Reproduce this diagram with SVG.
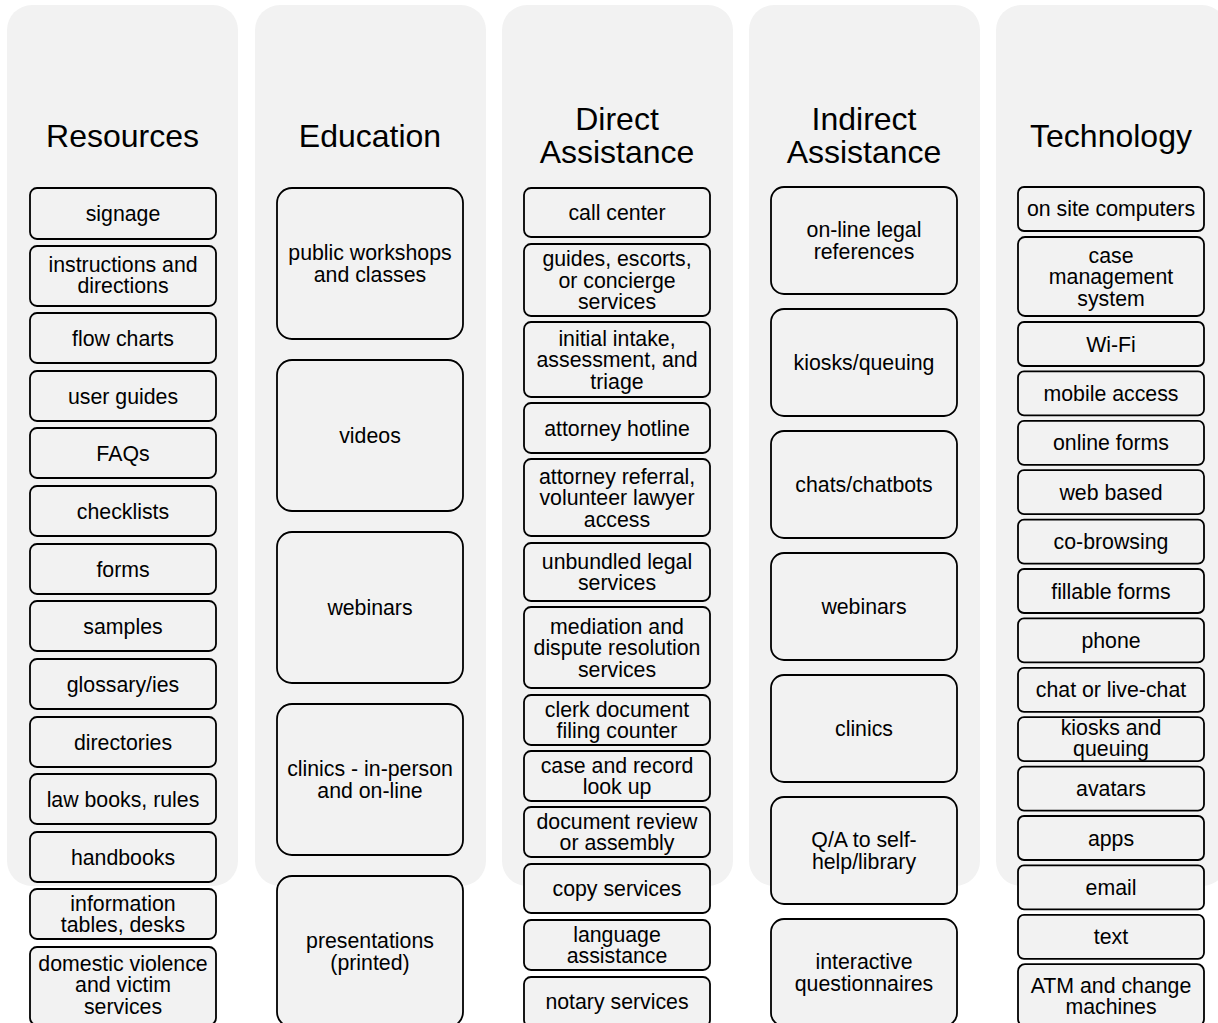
<svg xmlns="http://www.w3.org/2000/svg" width="1218" height="1023" viewBox="0 0 1218 1023">
<style>
.col{fill:#f2f2f2}
.box{fill:#f2f2f2;stroke:#000;stroke-width:1.8}
.t{font-family:"Liberation Sans",Arial,sans-serif;font-size:21.3px;text-anchor:middle;fill:#000}
.h{font-size:32px}
</style>
<rect width="1218" height="1023" fill="#fff"/>
<g id="columns">
<rect class="col" x="7" y="5" width="231" height="881" rx="25"/>
<rect class="col" x="255" y="5" width="231" height="881" rx="25"/>
<rect class="col" x="502" y="5" width="231" height="881" rx="25"/>
<rect class="col" x="749" y="5" width="231" height="881" rx="25"/>
<rect class="col" x="996" y="5" width="231" height="881" rx="25"/>
<text class="t h" x="122.5" y="147">Resources</text>
<text class="t h" x="370" y="147">Education</text>
<text class="t h" x="617" y="130">Direct<tspan x="617" y="163">Assistance</tspan></text>
<text class="t h" x="864" y="130">Indirect<tspan x="864" y="163">Assistance</tspan></text>
<text class="t h" x="1111" y="147">Technology</text>
</g>
<g id="connectors"/>
<!-- Resources -->
<g id="r1"><rect class="box" x="30" y="188" width="186" height="51" rx="7"/><text class="t" x="123" y="221">signage</text></g>
<g id="r2"><rect class="box" x="30" y="246" width="186" height="60" rx="7"/><text class="t" x="123" y="271.5">instructions and<tspan x="123" y="293">directions</tspan></text></g>
<g id="r3"><rect class="box" x="30" y="313" width="186" height="50" rx="7"/><text class="t" x="123" y="345.5">flow charts</text></g>
<g id="r4"><rect class="box" x="30" y="371" width="186" height="50" rx="7"/><text class="t" x="123" y="403.5">user guides</text></g>
<g id="r5"><rect class="box" x="30" y="428" width="186" height="50" rx="7"/><text class="t" x="123" y="460.5">FAQs</text></g>
<g id="r6"><rect class="box" x="30" y="486" width="186" height="50" rx="7"/><text class="t" x="123" y="518.5">checklists</text></g>
<g id="r7"><rect class="box" x="30" y="544" width="186" height="50" rx="7"/><text class="t" x="123" y="576.5">forms</text></g>
<g id="r8"><rect class="box" x="30" y="601" width="186" height="50" rx="7"/><text class="t" x="123" y="633.5">samples</text></g>
<g id="r9"><rect class="box" x="30" y="659" width="186" height="50" rx="7"/><text class="t" x="123" y="691.5">glossary/ies</text></g>
<g id="r10"><rect class="box" x="30" y="717" width="186" height="50" rx="7"/><text class="t" x="123" y="749.5">directories</text></g>
<g id="r11"><rect class="box" x="30" y="774" width="186" height="50" rx="7"/><text class="t" x="123" y="806.5">law books, rules</text></g>
<g id="r12"><rect class="box" x="30" y="832" width="186" height="50" rx="7"/><text class="t" x="123" y="864.5">handbooks</text></g>
<g id="r13"><rect class="box" x="30" y="889" width="186" height="50" rx="7"/><text class="t" x="123" y="910.5">information<tspan x="123" y="932">tables, desks</tspan></text></g>
<g id="r14"><rect class="box" x="30" y="947" width="186" height="78" rx="7"/><text class="t" x="123" y="970.5">domestic violence<tspan x="123" y="992">and victim</tspan><tspan x="123" y="1013.5">services</tspan></text></g>
<!-- Education -->
<g id="e1"><rect class="box" x="277" y="188" width="186" height="151" rx="15"/><text class="t" x="370" y="260.25">public workshops<tspan x="370" y="281.75">and classes</tspan></text></g>
<g id="e2"><rect class="box" x="277" y="360" width="186" height="151" rx="15"/><text class="t" x="370" y="443">videos</text></g>
<g id="e3"><rect class="box" x="277" y="532" width="186" height="151" rx="15"/><text class="t" x="370" y="615">webinars</text></g>
<g id="e4"><rect class="box" x="277" y="704" width="186" height="151" rx="15"/><text class="t" x="370" y="776.25">clinics - in-person<tspan x="370" y="797.75">and on-line</tspan></text></g>
<g id="e5"><rect class="box" x="277" y="876" width="186" height="151" rx="15"/><text class="t" x="370" y="948.25">presentations<tspan x="370" y="969.75">(printed)</tspan></text></g>
<!-- Direct Assistance -->
<g id="d1"><rect class="box" x="524" y="188" width="186" height="49" rx="7"/><text class="t" x="617" y="220">call center</text></g>
<g id="d2"><rect class="box" x="524" y="244" width="186" height="72" rx="7"/><text class="t" x="617" y="266">guides, escorts,<tspan x="617" y="287.5">or concierge</tspan><tspan x="617" y="309">services</tspan></text></g>
<g id="d3"><rect class="box" x="524" y="322" width="186" height="75" rx="7"/><text class="t" x="617" y="345.5">initial intake,<tspan x="617" y="367">assessment, and</tspan><tspan x="617" y="388.5">triage</tspan></text></g>
<g id="d4"><rect class="box" x="524" y="403" width="186" height="50" rx="7"/><text class="t" x="617" y="435.5">attorney hotline</text></g>
<g id="d5"><rect class="box" x="524" y="459" width="186" height="77" rx="7"/><text class="t" x="617" y="483.5">attorney referral,<tspan x="617" y="505">volunteer lawyer</tspan><tspan x="617" y="526.5">access</tspan></text></g>
<g id="d6"><rect class="box" x="524" y="543" width="186" height="58" rx="7"/><text class="t" x="617" y="568.75">unbundled legal<tspan x="617" y="590.25">services</tspan></text></g>
<g id="d7"><rect class="box" x="524" y="607" width="186" height="81" rx="7"/><text class="t" x="617" y="633.5">mediation and<tspan x="617" y="655">dispute resolution</tspan><tspan x="617" y="676.5">services</tspan></text></g>
<g id="d8"><rect class="box" x="524" y="695" width="186" height="50" rx="7"/><text class="t" x="617" y="716.75">clerk document<tspan x="617" y="738.25">filing counter</tspan></text></g>
<g id="d9"><rect class="box" x="524" y="751" width="186" height="50" rx="7"/><text class="t" x="617" y="772.75">case and record<tspan x="617" y="794.25">look up</tspan></text></g>
<g id="d10"><rect class="box" x="524" y="807" width="186" height="50" rx="7"/><text class="t" x="617" y="828.75">document review<tspan x="617" y="850.25">or assembly</tspan></text></g>
<g id="d11"><rect class="box" x="524" y="864" width="186" height="49" rx="7"/><text class="t" x="617" y="896">copy services</text></g>
<g id="d12"><rect class="box" x="524" y="920" width="186" height="50" rx="7"/><text class="t" x="617" y="941.75">language<tspan x="617" y="963.25">assistance</tspan></text></g>
<g id="d13"><rect class="box" x="524" y="977" width="186" height="50" rx="7"/><text class="t" x="617" y="1009">notary services</text></g>
<!-- Indirect Assistance -->
<g id="i1"><rect class="box" x="771" y="187" width="186" height="107" rx="13"/><text class="t" x="864" y="237.25">on-line legal<tspan x="864" y="258.75">references</tspan></text></g>
<g id="i2"><rect class="box" x="771" y="309" width="186" height="107" rx="13"/><text class="t" x="864" y="370">kiosks/queuing</text></g>
<g id="i3"><rect class="box" x="771" y="431" width="186" height="107" rx="13"/><text class="t" x="864" y="492">chats/chatbots</text></g>
<g id="i4"><rect class="box" x="771" y="553" width="186" height="107" rx="13"/><text class="t" x="864" y="614">webinars</text></g>
<g id="i5"><rect class="box" x="771" y="675" width="186" height="107" rx="13"/><text class="t" x="864" y="736">clinics</text></g>
<g id="i6"><rect class="box" x="771" y="797" width="186" height="107" rx="13"/><text class="t" x="864" y="847.25">Q/A to self-<tspan x="864" y="868.75">help/library</tspan></text></g>
<g id="i7"><rect class="box" x="771" y="919" width="186" height="107" rx="13"/><text class="t" x="864" y="969.25">interactive<tspan x="864" y="990.75">questionnaires</tspan></text></g>
<!-- Technology -->
<g id="t1"><rect class="box" x="1018" y="187" width="186" height="44" rx="6"/><text class="t" x="1111" y="216">on site computers</text></g>
<g id="t2"><rect class="box" x="1018" y="237" width="186" height="79" rx="7"/><text class="t" x="1111" y="262.5">case<tspan x="1111" y="284">management</tspan><tspan x="1111" y="305.5">system</tspan></text></g>
<g id="t3"><rect class="box" x="1018" y="322" width="186" height="44" rx="6"/><text class="t" x="1111" y="351.5">Wi-Fi</text></g>
<g id="t4"><rect class="box" x="1018" y="371.4" width="186" height="44" rx="6"/><text class="t" x="1111" y="401">mobile access</text></g>
<g id="t5"><rect class="box" x="1018" y="420.8" width="186" height="44" rx="6"/><text class="t" x="1111" y="450.3">online forms</text></g>
<g id="t6"><rect class="box" x="1018" y="470.2" width="186" height="44" rx="6"/><text class="t" x="1111" y="499.7">web based</text></g>
<g id="t7"><rect class="box" x="1018" y="519.6" width="186" height="44" rx="6"/><text class="t" x="1111" y="549.1">co-browsing</text></g>
<g id="t8"><rect class="box" x="1018" y="569" width="186" height="44" rx="6"/><text class="t" x="1111" y="598.5">fillable forms</text></g>
<g id="t9"><rect class="box" x="1018" y="618.4" width="186" height="44" rx="6"/><text class="t" x="1111" y="648">phone</text></g>
<g id="t10"><rect class="box" x="1018" y="667.8" width="186" height="44" rx="6"/><text class="t" x="1111" y="697.3">chat or live-chat</text></g>
<g id="t11"><rect class="box" x="1018" y="717.2" width="186" height="44" rx="6"/><text class="t" x="1111" y="735">kiosks and<tspan x="1111" y="755.5">queuing</tspan></text></g>
<g id="t12"><rect class="box" x="1018" y="766.6" width="186" height="44" rx="6"/><text class="t" x="1111" y="796">avatars</text></g>
<g id="t13"><rect class="box" x="1018" y="816" width="186" height="44" rx="6"/><text class="t" x="1111" y="845.5">apps</text></g>
<g id="t14"><rect class="box" x="1018" y="865.4" width="186" height="44" rx="6"/><text class="t" x="1111" y="895">email</text></g>
<g id="t15"><rect class="box" x="1018" y="914.8" width="186" height="44" rx="6"/><text class="t" x="1111" y="944.3">text</text></g>
<g id="t16"><rect class="box" x="1018" y="964.2" width="186" height="62" rx="7"/><text class="t" x="1111" y="992.5">ATM and change<tspan x="1111" y="1013.5">machines</tspan></text></g>
</svg>
